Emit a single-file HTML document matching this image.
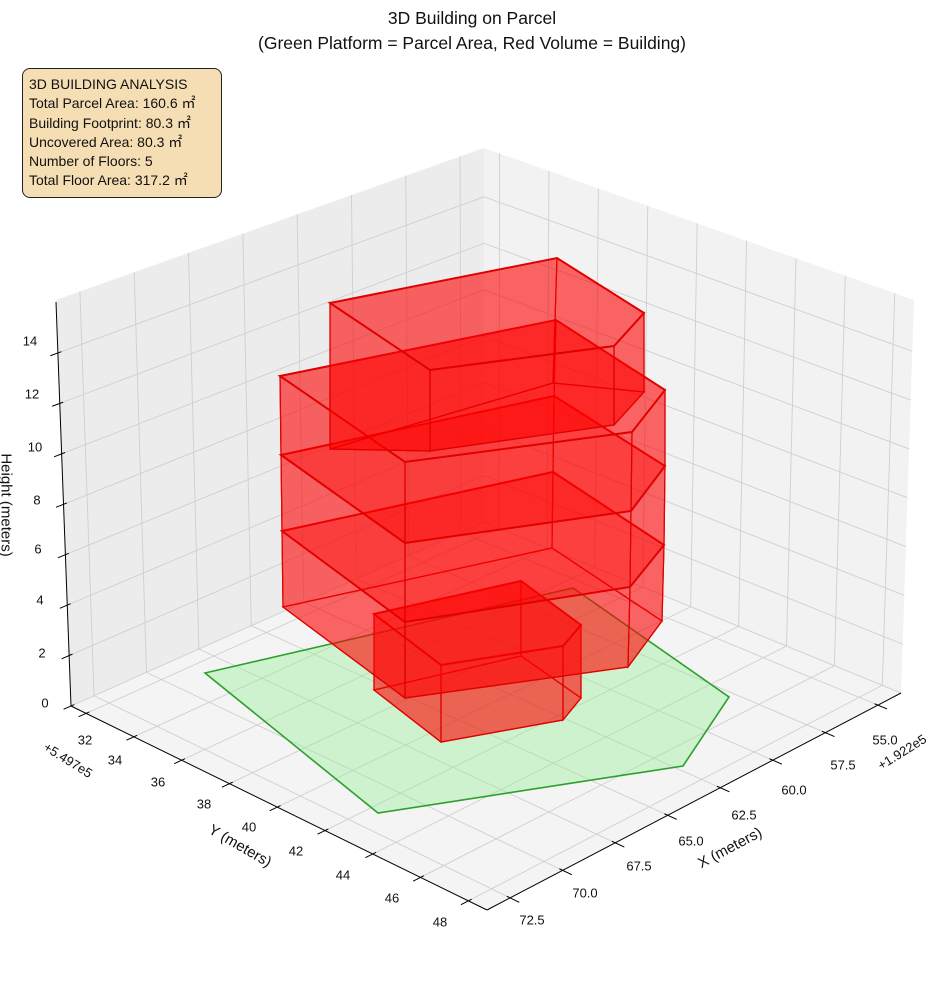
<!DOCTYPE html>
<html><head><meta charset="utf-8">
<style>
html,body{margin:0;padding:0;background:#fff;}
body{width:944px;height:992px;position:relative;overflow:hidden;font-family:"Liberation Sans",sans-serif;}
.box{position:absolute;left:22px;top:68px;width:200px;height:130px;background:#f5deb3;border:1.3px solid #222;border-radius:8px;box-sizing:border-box;padding:6px 0 0 6px;font-size:14px;line-height:19.3px;color:#111;}
</style></head><body>
<svg id="s" width="944" height="992" style="position:absolute;left:0;top:0" font-family="Liberation Sans, sans-serif">
<text x="472" y="24" font-size="17.5" text-anchor="middle" fill="#111">3D Building on Parcel</text>
<text x="472" y="49" font-size="17.5" text-anchor="middle" fill="#111">(Green Platform = Parcel Area, Red Volume = Building)</text>
<g id="grid"></g>
<g id="bld"></g>
<g id="labels" font-size="13" fill="#111"></g>
</svg>
<div class="box">3D BUILDING ANALYSIS<br>Total Parcel Area: 160.6 ㎡<br>Building Footprint: 80.3 ㎡<br>Uncovered Area: 80.3 ㎡<br>Number of Floors: 5<br>Total Floor Area: 317.2 ㎡</div>
<script>
var NS="http://www.w3.org/2000/svg";
function el(p,t,a){var e=document.createElementNS(NS,t);for(var k in a)e.setAttribute(k,a[k]);p.appendChild(e);return e;}
var L=[71,706],F=[487,910],R=[901,693],B=[484,522],Lt=[56,300],Bt=[484,148],Rt=[914,300];
var xmin=53.9,xmax=73.6,ymin=31.37,ymax=48.78,zmax=16.1;
function lerp(a,b,t){return [a[0]+(b[0]-a[0])*t,a[1]+(b[1]-a[1])*t];}
function floorP(x,y){var u=(x-xmin)/(xmax-xmin),v=(y-ymin)/(ymax-ymin);
 var a=lerp(B,L,u),b=lerp(R,F,u);return lerp(a,b,v);}
function leftW(x,z){var u=(x-xmin)/(xmax-xmin);return lerp(lerp(B,L,u),lerp(Bt,Lt,u),z/zmax);}
function rightW(y,z){var v=(y-ymin)/(ymax-ymin);return lerp(lerp(B,R,v),lerp(Bt,Rt,v),z/zmax);}
function pts(a){return a.map(function(p){return p[0].toFixed(1)+","+p[1].toFixed(1)}).join(" ");}
var g=document.getElementById("grid");
el(g,"polygon",{points:pts([B,L,Lt,Bt]),fill:"#ececec"});
el(g,"polygon",{points:pts([B,R,Rt,Bt]),fill:"#f2f2f2"});
el(g,"polygon",{points:pts([B,L,F,R]),fill:"#f4f4f4"});
var gs={stroke:"#cfcfcf","stroke-width":"0.9",fill:"none"};
function line(p,q,a){var o={x1:p[0],y1:p[1],x2:q[0],y2:q[1]};for(var k in a)o[k]=a[k];el(g,"line",o);}
var xt=[55,57.5,60,62.5,65,67.5,70,72.5],yt=[32,34,36,38,40,42,44,46,48],zt=[0,2,4,6,8,10,12,14];
xt.forEach(function(x){line(floorP(x,ymin),floorP(x,ymax),gs);line(leftW(x,0),leftW(x,zmax),gs);});
yt.forEach(function(y){line(floorP(xmin,y),floorP(xmax,y),gs);line(rightW(y,0),rightW(y,zmax),gs);});
zt.forEach(function(z){line(leftW(xmin,z),leftW(xmax,z),gs);line(rightW(ymin,z),rightW(ymax,z),gs);});
var ax={stroke:"#000","stroke-width":"1"};
line([56,302],L,ax);line(L,F,ax);line(F,R,ax);
var lb=document.getElementById("labels");
function txt(x,y,s,rot,sz){var t=el(lb,"text",{x:x,y:y,"text-anchor":"middle","dominant-baseline":"central"});if(sz)t.setAttribute("font-size",sz);if(rot)t.setAttribute("transform","rotate("+rot+" "+x+" "+y+")");t.textContent=s;}
var xr=xmax-xmin,yr=ymax-ymin;
yt.forEach(function(y,i){var p=floorP(xmax-0.008*xr,y),q=floorP(xmax+0.018*xr,y);line(p,q,ax);});
xt.forEach(function(x){var p=floorP(x,ymax-0.008*yr),q=floorP(x,ymax+0.022*yr);line(p,q,ax);});
zt.forEach(function(z){var p=leftW(xmax-0.008*xr,z),q=leftW(xmax+0.018*xr,z);line(p,q,ax);});
var yl=[[85,740],[115,760],[158,782],[204,804],[249,827],[296,851],[343,875],[392,898],[440,922]];
yt.forEach(function(y,i){txt(yl[i][0],yl[i][1],String(y));});
var xl=[[885,740],[843,765],[794,790],[744,815],[691,841],[639,866],[585,893],[532,920]];
xt.forEach(function(x,i){txt(xl[i][0],xl[i][1],x.toFixed(1));});
var zl=[[45,703],[42,653],[40,600],[38,549],[37,500],[35,447],[32,394],[30,341]];
zt.forEach(function(z,i){txt(zl[i][0],zl[i][1],String(z));});
txt(68,760,"+5.497e5",32);txt(902,752,"+1.922e5",-32);
txt(240,846,"Y (meters)",30,15);txt(730,848,"X (meters)",-28,15);txt(6,505,"Height (meters)",90,15);
var b=document.getElementById("bld");
el(b,"polygon",{points:pts([[205,673],[573,588],[729,697],[683,766],[378,813]]),fill:"rgba(144,238,144,0.38)",stroke:"#2ca02c","stroke-width":"1.6"});
var A="rgba(255,0,0,0.36)";
function prism(T,Bo,drawBottom){
 if(drawBottom)el(b,"polygon",{points:pts(Bo),fill:A,stroke:"#e00000","stroke-width":"1.3"});
 for(var i=0;i<T.length;i++){var j=(i+1)%T.length;
  el(b,"polygon",{points:pts([T[i],T[j],Bo[j],Bo[i]]),fill:A,stroke:"#e00000","stroke-width":"1.2"});}
 el(b,"polygon",{points:pts(T),fill:A,stroke:"#e00000","stroke-width":"2"});
}
prism([[374,614],[521,581],[581,625],[563,646],[441,665]],[[374,690],[521,656],[581,698],[563,720],[441,742]],true);
var Lv=[[[280,376],[556,320],[665,390],[632,432],[405,462]],
[[281,455],[554,396],[665,466],[631,511],[405,543]],
[[282,531],[553,472],[664,545],[630,587],[405,622]],
[[283,607],[552,548],[662,621],[628,667],[405,698]]];
prism(Lv[2],Lv[3],true);prism(Lv[1],Lv[2],false);prism(Lv[0],Lv[1],false);
prism([[330,303],[557,258],[644,313],[614,346],[430,370]],[[330,449],[553,383],[644,392],[614,425],[430,451]],true);
</script>
</body></html>
